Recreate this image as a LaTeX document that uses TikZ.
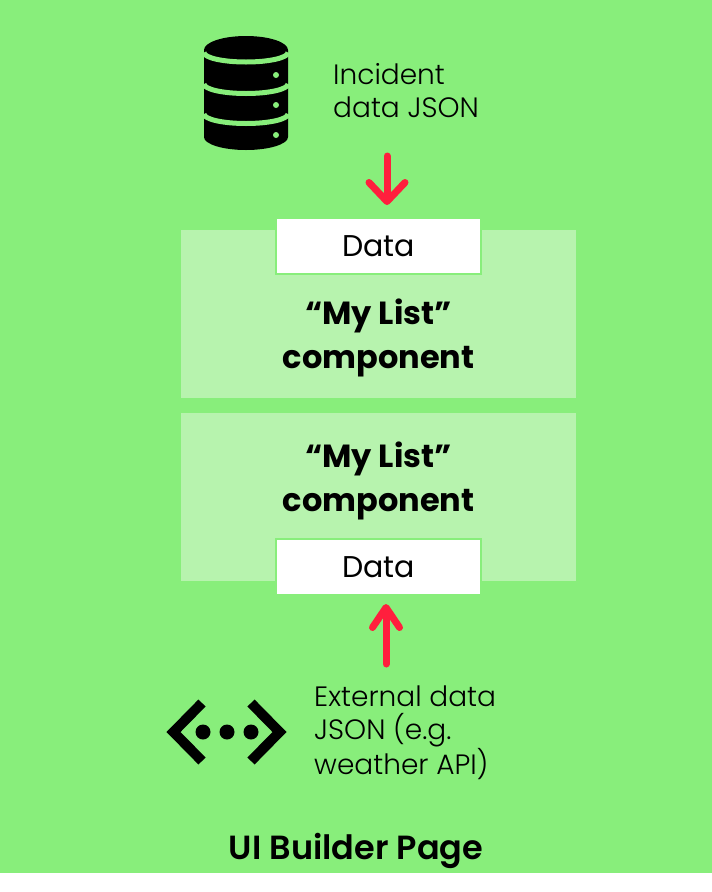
\documentclass[tikz,border=0pt]{standalone}
\usepackage{fontspec}
\setmainfont[BoldFont={Poppins Bold}]{Poppins Light}
\newfontfamily\datafont{Poppins}
\newfontfamily\pagefont{Poppins SemiBold}
\usetikzlibrary{arrows.meta,positioning}
\definecolor{pagegreen}{HTML}{88EE7B}
\definecolor{panelgreen}{HTML}{B7F3AE}
\definecolor{arrowred}{HTML}{FF1F3D}
\begin{document}
\begin{tikzpicture}[x=1pt, y=-1pt,
		panel/.style={fill=panelgreen, minimum width=395pt, minimum height=168pt, inner sep=0pt},
		title/.style={font=\bfseries\fontsize{32}{44}\selectfont, align=center, inner sep=0pt},
		datainput/.style={fill=white, draw=pagegreen, line width=2pt, minimum width=205pt, minimum height=56pt, inner sep=0pt, font=\datafont\fontsize{30}{34}\selectfont},
		label/.style={align=left, inner sep=0pt, font=\fontsize{28}{33}\selectfont},
		redarrow/.style={draw=arrowred, line width=7pt, line cap=round}
		]
	\fill[white] (0,0) rectangle (712,892);
	\fill[pagegreen] (0,0) rectangle (712,873);
	\path[use as bounding box] (0,0) rectangle (712,892);
	% panels and data boxes
	\node [panel] (top) at (378.5,314) {};
	\node [panel] (bottom) at (378.5,497) {};
	\node [title] (toptitle) at (378.5,338) {“My List”\\component};
	\node [title] (bottomtitle) at (378.5,481) {“My List”\\component};
	\node [datainput] (topdata) at (378.5,246) {Data};
	\node [datainput] (bottomdata) at (378.5,567) {Data};
	% database icon
	\fill (204,50) arc[start angle=180, end angle=360, x radius=42, y radius=14]
		-- (288,137) arc[start angle=0, end angle=180, x radius=42, y radius=13] -- cycle;
	\foreach \ya in {52.5,84,114} {
		\draw[pagegreen, line width=5pt] (204,\ya) arc[start angle=180, end angle=0, x radius=42, y radius=9.5];
	}
	\foreach \ya in {75,105,135} {
		\fill[pagegreen] (276,\ya) circle[radius=3];
	}
	\node [label, anchor=west] (incident) at (333,90.5) {Incident\\data JSON};
	% api icon
	\draw[line width=10pt, miter limit=10] (202,703) -- (173.5,732) -- (202,761);
	\draw[line width=10pt, miter limit=10] (251,703) -- (279.5,732) -- (251,761);
	\foreach \xa in {203,227,251} {
		\fill (\xa,732) circle[radius=7.5];
	}
	\node [label, anchor=west] (external) at (314,733) {External data\\JSON (e.g.\\weather API)};
	% arrows
	\coordinate (dbout) at (387,156);
	\coordinate (apiout) at (386,664);
	\draw[redarrow, -{Straight Barb[length=19pt,width=36pt,round,line width=7pt]}, shorten >=12pt] (dbout) -- (dbout |- topdata.north);
	\draw[redarrow, -{Straight Barb[length=20pt,width=27pt,round,line width=7pt]}, shorten >=8pt] (apiout) -- (apiout |- bottomdata.south);
	\node [font=\pagefont\fontsize{33.5}{38}\selectfont, inner sep=0pt] (page) at (356,851) {UI Builder Page};
\end{tikzpicture}
\end{document}
